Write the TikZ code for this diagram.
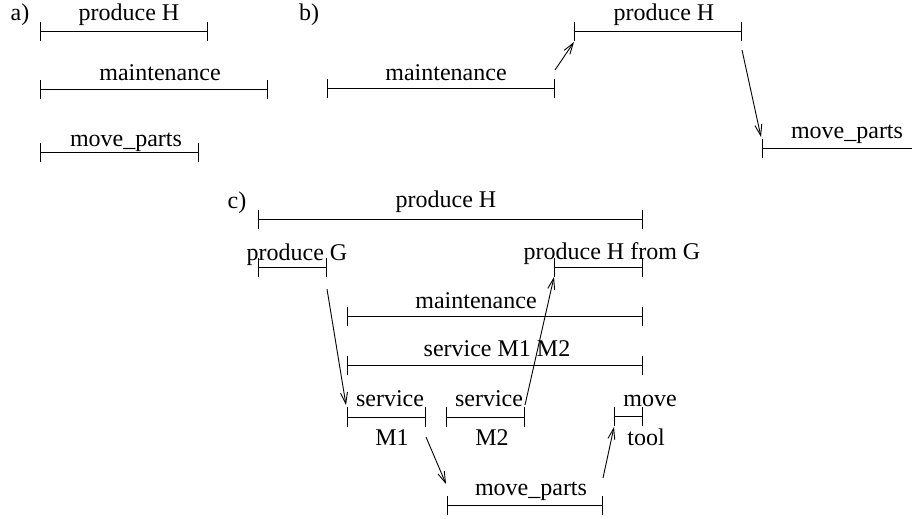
\documentclass[tikz,border=0pt]{standalone}
\usepackage{fontspec}
\setmainfont{Liberation Serif}
\usetikzlibrary{arrows.meta}

\tikzset{
  span/.style={{Bar[width=9.5pt]}-{Bar[width=9.5pt]}, line width=0.5pt},
  openspan/.style={{Bar[width=9.5pt]}-, line width=0.5pt},
  flow/.style={-{Straight Barb[length=5.5pt,width=3.5pt]}, line width=0.45pt},
  lbl/.style={anchor=base, inner sep=0pt, font=\fontsize{12}{14}\selectfont}
}

\begin{document}
\begin{tikzpicture}[x=0.5pt,y=-0.5pt]
\useasboundingbox (0,0) rectangle (912,519);

% a)
\node[lbl] (a-tag) at (20,21) {a)};
\coordinate (ah-s) at (40,32);   \coordinate (ah-e) at (208,32);
\coordinate (am-s) at (40,90);   \coordinate (am-e) at (268,90);
\coordinate (ap-s) at (40,153);  \coordinate (ap-e) at (199,153);
\draw[span] (ah-s) -- (ah-e);
\draw[span] (am-s) -- (am-e);
\draw[span] (ap-s) -- (ap-e);
\node[lbl] (ah-t) at (129,21) {produce H};
\node[lbl] (am-t) at (160,81) {maintenance};
\node[lbl] (ap-t) at (126,147) {move\_parts};

% b)
\node[lbl] (b-tag) at (309,21) {b)};
\coordinate (bm-s) at (327,89);  \coordinate (bm-e) at (555,89);
\coordinate (bh-s) at (574,32);  \coordinate (bh-e) at (742,32);
\coordinate (bp-s) at (762,149); \coordinate (bp-e) at (912,149);
\draw[span] (bm-s) -- (bm-e);
\draw[span] (bh-s) -- (bh-e);
\draw[openspan] (bp-s) -- (bp-e);
\node[lbl] (bm-t) at (446,81) {maintenance};
\node[lbl] (bh-t) at (664,21) {produce H};
\node[lbl] (bp-t) at (847,139) {move\_parts};
\draw[flow] ([shift={(0,-19)}]bm-e) -- ([shift={(0,10)}]bh-s);
\draw[flow] ([shift={(0,18)}]bh-e) -- ([shift={(-1,-12)}]bp-s);

% c)
\node[lbl] (c-tag) at (237,209) {c)};
\coordinate (ch-s) at (258,220);  \coordinate (ch-e) at (643,220);
\coordinate (cg-s) at (258,268);  \coordinate (cg-e) at (327,268);
\coordinate (chg-s) at (554,268); \coordinate (chg-e) at (643,268);
\coordinate (cm-s) at (347,317);  \coordinate (cm-e) at (643,317);
\coordinate (cs-s) at (347,366);  \coordinate (cs-e) at (643,366);
\coordinate (cs1-s) at (347,417); \coordinate (cs1-e) at (426,417);
\coordinate (cs2-s) at (446,417); \coordinate (cs2-e) at (525,417);
\coordinate (ct-s) at (614,416);  \coordinate (ct-e) at (643,416);
\coordinate (cp-s) at (447,505);  \coordinate (cp-e) at (603,505);
\draw[span] (ch-s) -- (ch-e);
\draw[span] (cg-s) -- (cg-e);
\draw[span] (chg-s) -- (chg-e);
\draw[span] (cm-s) -- (cm-e);
\draw[span] (cs-s) -- (cs-e);
\draw[span] (cs1-s) -- (cs1-e);
\draw[span] (cs2-s) -- (cs2-e);
\draw[span] (ct-s) -- (ct-e);
\draw[span] (cp-s) -- (cp-e);
\node[lbl] (ch-t) at (446,208) {produce H};
\node[lbl] (cg-t) at (297,261) {produce G};
\node[lbl] (chg-t) at (612,260) {produce H from G};
\node[lbl] (cm-t) at (476,308) {maintenance};
\node[lbl] (cs-t) at (497,357) {service M1 M2};
\node[lbl] (cs1-t) at (390,407) {service};
\node[lbl] (cs1-b) at (392,445) {M1};
\node[lbl] (cs2-t) at (489,407) {service};
\node[lbl] (cs2-b) at (492,445) {M2};
\node[lbl] (ct-t) at (650,407) {move};
\node[lbl] (ct-b) at (646,445) {tool};
\node[lbl] (cp-t) at (531,495) {move\_parts};
\draw[flow] ([shift={(0,21)}]cg-e) -- ([shift={(-1,-12)}]cs1-s);
\draw[flow] ([shift={(0,-12)}]cs2-e) -- ([shift={(0,9)}]chg-s);
\draw[flow] ([shift={(0,20)}]cs1-e) -- ([shift={(-1,-21)}]cp-s);
\draw[flow] ([shift={(0,-27)}]cp-e) -- ([shift={(0,11)}]ct-s);
\end{tikzpicture}
\end{document}
